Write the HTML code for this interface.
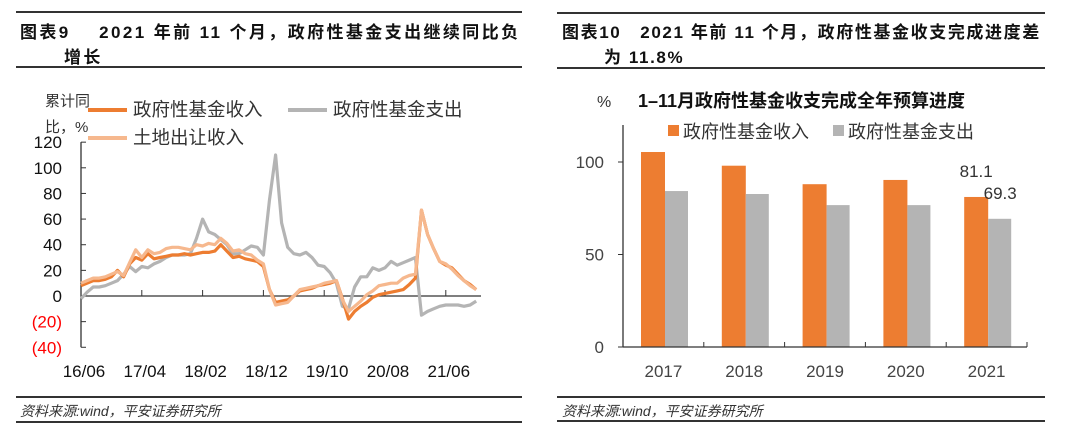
<!DOCTYPE html>
<html><head><meta charset="utf-8"><style>
body{margin:0;width:1080px;height:439px;background:#fff;overflow:hidden;font-family:"Liberation Sans","Noto Sans CJK SC",sans-serif;}
.abs{position:absolute;white-space:nowrap;}
.rule{position:absolute;height:2px;background:#333;}
.title{font-weight:bold;font-size:17px;color:#111;}
.src{font-style:italic;font-size:14px;color:#333;}
</style></head><body>
<div class="rule" style="left:16px;top:11px;width:506px"></div>
<div class="abs title" style="left:20px;top:18px;letter-spacing:2.4px">图表9&nbsp;&nbsp;&nbsp;&nbsp;2021 年前 11 个月，政府性基金支出继续同比负</div>
<div class="abs title" style="left:64px;top:43px;letter-spacing:2.4px">增长</div>
<div class="rule" style="left:16px;top:66px;width:506px"></div>
<div class="rule" style="left:16px;top:396px;width:506px"></div>
<div class="abs src" style="left:20px;top:401px">资料来源:wind，平安证券研究所</div>
<div class="rule" style="left:16px;top:421px;width:506px"></div>

<div class="rule" style="left:557px;top:12px;width:488px"></div>
<div class="abs title" style="left:562px;top:18px;letter-spacing:1.6px">图表10&nbsp;&nbsp;&nbsp;2021 年前 11 个月，政府性基金收支完成进度差</div>
<div class="abs title" style="left:604px;top:43px;letter-spacing:1.6px">为 11.8%</div>
<div class="rule" style="left:557px;top:67px;width:488px"></div>
<div class="rule" style="left:557px;top:396px;width:488px"></div>
<div class="abs src" style="left:562px;top:401px">资料来源:wind，平安证券研究所</div>
<div class="rule" style="left:557px;top:420px;width:488px"></div>

<svg id="left" class="abs" style="left:0;top:0" width="540" height="439"></svg>
<svg id="right" class="abs" style="left:540px;top:0" width="540" height="439"></svg>

<script>
const monthsCount = 66;
const xTickLabels = ["16/06","17/04","18/02","18/12","19/10","20/08","21/06"];
const yTickValues = [120,100,80,60,40,20,0,-20,-40];
const incomeValues = [8,10,12,12,13,15,20,15,25,30,28,33,29,30,31,32,32,33,32,33,34,34,35,40,35,30,31,29,28,27,23,5,-5,-4,-3,0,4,5,6,8,9,10,12,-2,-18,-12,-8,-5,-1,1,2,3,4,5,9,14,67,48,37,27,24,22,17,12,9,5];
const landValues = [10,12,14,14,15,17,19,16,26,36,30,36,33,34,37,38,38,37,36,40,39,41,40,45,41,35,36,33,32,28,25,5,-7,-6,-5,0,5,6,7,8,10,11,12,-3,-12,-8,-4,1,4,8,9,10,10,14,16,17,67,48,37,27,25,21,16,12,8,5];
const spendValues = [-2,3,7,7,8,10,12,17,23,19,23,22,25,27,30,32,32,32,33,45,60,50,48,44,40,33,33,36,39,38,32,75,110,57,38,33,32,34,30,24,23,18,10,-8,-10,7,15,15,22,20,22,27,24,26,28,30,-15,-12,-10,-8,-7,-7,-7,-8,-7,-4];

const categories = ["2017","2018","2019","2020","2021"];
const barIncome = [105.4,98,88,90.3,81.1];
const barSpend = [84.3,82.7,76.7,76.7,69.3];
const barTicks = [100,50,0];

const NS="http://www.w3.org/2000/svg";
function mk(p,tag,attrs,text){const e=document.createElementNS(NS,tag);for(const k in attrs)e.setAttribute(k,attrs[k]);if(text!==undefined)e.textContent=text;p.appendChild(e);return e;}

// ---- left chart
const L=document.getElementById('left');
const lx=m=>81+6.08*m;
const ly=v=>296-v*1.282;
let ax=mk(L,'line',{x1:81,y1:ly(120),x2:81,y2:ly(-40),stroke:'#333','stroke-width':1.3});

yTickValues.forEach(v=>{
  let t=mk(L,'line',{x1:81,y1:ly(v),x2:86,y2:ly(v),stroke:'#333'});
  
  let lb=mk(L,'text',{x:62,y:ly(v)+6,'text-anchor':'end','font-size':17,fill:v<0?'#f00':'#111'},v<0?'('+(-v)+')':String(v));
  
});
let xa=mk(L,'line',{x1:81,y1:ly(0),x2:481,y2:ly(0),stroke:'#333','stroke-width':1.3});

xTickLabels.forEach((s,i)=>{
  const x=lx(i*10);
  let t=mk(L,'line',{x1:x,y1:ly(0),x2:x,y2:ly(0)-6,stroke:'#333'});
  
  let lb=mk(L,'text',{x:x+3,y:377,'text-anchor':'middle','font-size':17,fill:'#111'},s);
  
});
function line(vals,color,name){
  const d=vals.map((v,i)=>(i?'L':'M')+lx(i).toFixed(1)+','+ly(v).toFixed(1)).join('');
  let p=mk(L,'path',{d:d,fill:'none',stroke:color,'stroke-width':3.2,'stroke-linejoin':'round'});
  
}
line(spendValues,'#B4B4B4','spending-line');
line(incomeValues,'#ED7D31','income-line');
line(landValues,'#F6B88E','land-sale-line');
let u1=mk(L,'text',{x:45,y:106,'font-size':15,fill:'#333'},'累计同');
let u2=mk(L,'text',{x:45,y:132,'font-size':15,fill:'#333'},'比，%');
[[88,110,'#ED7D31','政府性基金收入','legend-income'],[288,110,'#B4B4B4','政府性基金支出','legend-spending'],[88,138,'#F6B88E','土地出让收入','legend-land-sale']].forEach(a=>{
  let g=mk(L,'g',{});
  mk(g,'line',{x1:a[0],y1:a[1],x2:a[0]+39,y2:a[1],stroke:a[2],'stroke-width':4});
  mk(g,'text',{x:a[0]+45,y:a[1]+6,'font-size':18.5,fill:'#333'},a[3]);
});

// ---- right chart
const R=document.getElementById('right');
const bx0=83, bw=80.8;
const by=v=>347-v*1.85;
let ya=mk(R,'line',{x1:bx0,y1:by(0),x2:bx0,y2:125,stroke:'#333','stroke-width':1.3});

barTicks.forEach(v=>{
  let t=mk(R,'line',{x1:bx0-5,y1:by(v),x2:bx0,y2:by(v),stroke:'#333'});
  
  let lb=mk(R,'text',{x:64,y:by(v)+6,'text-anchor':'end','font-size':17,fill:'#444'},String(v));
  
});
categories.forEach((c,i)=>{
  const x0=bx0+i*bw;
  let r1=mk(R,'rect',{x:x0+18,y:by(barIncome[i]),width:24,height:by(0)-by(barIncome[i]),fill:'#ED7D31'});
  
  let r2=mk(R,'rect',{x:x0+42,y:by(barSpend[i]),width:23,height:by(0)-by(barSpend[i]),fill:'#B4B4B4'});
  
  let t=mk(R,'line',{x1:x0+bw,y1:by(0),x2:x0+bw,y2:by(0)-5,stroke:'#333'});
  
  let lb=mk(R,'text',{x:x0+bw/2,y:377,'text-anchor':'middle','font-size':17,fill:'#444'},c);
  
});
let xb=mk(R,'line',{x1:bx0,y1:by(0),x2:bx0+5*bw,y2:by(0),stroke:'#333','stroke-width':1.3});

const li=categories.length-1;
let v1=mk(R,'text',{x:bx0+li*bw+30,y:by(barIncome[li])-20,'text-anchor':'middle','font-size':17,fill:'#333'},barIncome[li].toFixed(1));

let v2=mk(R,'text',{x:bx0+li*bw+54,y:by(barSpend[li])-20,'text-anchor':'middle','font-size':17,fill:'#333'},barSpend[li].toFixed(1));

let pu=mk(R,'text',{x:57,y:107,'font-size':16,fill:'#333'},'%');
let ct=mk(R,'text',{x:98,y:107,'font-size':18,'font-weight':'bold',fill:'#111'},'1–11月政府性基金收支完成全年预算进度');

[[128,'#ED7D31','政府性基金收入','legend-income'],[293,'#B4B4B4','政府性基金支出','legend-spending']].forEach(a=>{
  let g=mk(R,'g',{});
  mk(g,'rect',{x:a[0],y:125,width:11,height:11,fill:a[1]});
  mk(g,'text',{x:a[0]+15,y:138,'font-size':18,fill:'#333'},a[2]);
});
</script>
</body></html>
